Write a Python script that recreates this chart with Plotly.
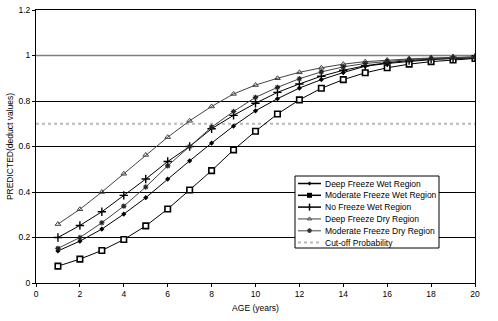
import plotly.graph_objects as go

ages = list(range(1, 21))
deep_freeze_wet = [0.141, 0.184, 0.237, 0.303, 0.375, 0.457, 0.537, 0.615, 0.69, 0.757,
                   0.81, 0.857, 0.894, 0.925, 0.953, 0.965, 0.975, 0.982, 0.987, 0.99]
moderate_freeze_wet = [0.074, 0.105, 0.143, 0.191, 0.251, 0.325, 0.409, 0.494, 0.585, 0.667,
                       0.743, 0.805, 0.856, 0.894, 0.924, 0.946, 0.962, 0.973, 0.98, 0.987]
no_freeze_wet = [0.20, 0.253, 0.313, 0.385, 0.457, 0.534, 0.60, 0.678, 0.737, 0.79,
                 0.838, 0.875, 0.909, 0.935, 0.955, 0.968, 0.978, 0.984, 0.988, 0.991]
deep_freeze_dry = [0.259, 0.324, 0.40, 0.48, 0.563, 0.641, 0.713, 0.776, 0.831, 0.870,
                   0.90, 0.926, 0.946, 0.962, 0.973, 0.98, 0.985, 0.989, 0.992, 0.994]
moderate_freeze_dry = [0.152, 0.20, 0.265, 0.338, 0.422, 0.515, 0.60, 0.685, 0.754, 0.816,
                       0.86, 0.898, 0.928, 0.95, 0.965, 0.975, 0.982, 0.987, 0.99, 0.993]
cutoff = 0.7
series_names = ["Deep Freeze Wet Region", "Moderate Freeze Wet Region", "No Freeze Wet Region",
                "Deep Freeze Dry Region", "Moderate Freeze Dry Region"]
cutoff_name = "Cut-off Probability"
x_ticks = list(range(0, 21, 2))
y_ticks = [0, 0.2, 0.4, 0.6, 0.8, 1.0, 1.2]
y_tick_labels = ["0", "0.2", "0.4", "0.6", "0.8", "1", "1.2"]

FONT = "Liberation Sans, Arial, sans-serif"
GRAY = "#808080"
CUT_COLOR = "#b8b8b8"

styles = [
    dict(line=dict(color="black", width=1),
         marker=dict(symbol="diamond", size=4, color="black")),
    dict(line=dict(color="black", width=1),
         marker=dict(symbol="square", size=5.5, color="white", line=dict(color="black", width=1.6))),
    dict(line=dict(color="black", width=1),
         marker=dict(symbol="cross-thin", size=6, color="black", line=dict(color="black", width=1.4))),
    dict(line=dict(color="#444444", width=1),
         marker=dict(symbol="triangle-up-open", size=5, color="#444444", line=dict(width=1))),
    dict(line=dict(color="#444444", width=1),
         marker=dict(symbol="asterisk-open", size=4.5, color="#222222", line=dict(width=1.1, color="#222222"))),
]
legend_styles = [
    dict(line=dict(color="black", width=1.5), marker=dict(symbol="diamond", size=3, color="black")),
    dict(line=dict(color="black", width=1.5), marker=dict(symbol="square", size=5, color="black")),
    dict(line=dict(color="black", width=1.5),
         marker=dict(symbol="line-ns", size=5, color="black", line=dict(color="black", width=1.5))),
    dict(line=dict(color=GRAY, width=1.5),
         marker=dict(symbol="triangle-up-open", size=4, color="#555555", line=dict(width=1))),
    dict(line=dict(color=GRAY, width=1.5),
         marker=dict(symbol="asterisk-open", size=4, color="#333333", line=dict(width=1.2, color="#333333"))),
]
all_series = [deep_freeze_wet, moderate_freeze_wet, no_freeze_wet, deep_freeze_dry, moderate_freeze_dry]

fig = go.Figure()

fig.add_trace(go.Scatter(x=[0, 20], y=[1, 1], mode="lines", showlegend=False, hoverinfo="skip",
                         line=dict(color=GRAY, width=1.5)))
fig.add_trace(go.Scatter(x=[0, 20], y=[cutoff, cutoff], name=cutoff_name, mode="lines",
                         showlegend=False, line=dict(color=CUT_COLOR, width=2, dash="dot")))
for name, vals, st in zip(series_names, all_series, styles):
    fig.add_trace(go.Scatter(x=ages, y=vals, name=name, mode="lines+markers",
                             showlegend=False, **st))

# ---- compact legend drawn on a hidden pixel-space overlay axis ----
LX0, LX1, LY0, LY1 = 295, 439, 176, 248
row0, row_step = 183.5, 11.8
samp0, samp1, text_x = 298, 321, 323
fig.add_trace(go.Scatter(x=[LX0, LX1, LX1, LX0, LX0], y=[LY0, LY0, LY1, LY1, LY0],
                         xaxis="x2", yaxis="y2", mode="lines", fill="toself",
                         fillcolor="white", line=dict(color="black", width=1),
                         showlegend=False, hoverinfo="skip"))
for i, (name, st) in enumerate(zip(series_names, legend_styles)):
    yc = row0 + i * row_step
    fig.add_trace(go.Scatter(x=[samp0, samp1], y=[yc, yc], xaxis="x2", yaxis="y2",
                             mode="lines", line=st["line"], showlegend=False, hoverinfo="skip"))
    fig.add_trace(go.Scatter(x=[(samp0 + samp1) / 2], y=[yc], xaxis="x2", yaxis="y2",
                             mode="markers", marker=st["marker"], showlegend=False, hoverinfo="skip"))
    fig.add_annotation(x=text_x, y=yc, xref="x2", yref="y2", text=name, showarrow=False,
                       xanchor="left", yanchor="middle", font=dict(size=8.5, family=FONT))
yc = row0 + len(series_names) * row_step
fig.add_trace(go.Scatter(x=[samp0, samp1], y=[yc, yc], xaxis="x2", yaxis="y2", mode="lines",
                         line=dict(color=CUT_COLOR, width=2, dash="dot"),
                         showlegend=False, hoverinfo="skip"))
fig.add_annotation(x=text_x, y=yc, xref="x2", yref="y2", text=cutoff_name, showarrow=False,
                   xanchor="left", yanchor="middle", font=dict(size=8.5, family=FONT))

fig.update_layout(
    width=498, height=321,
    margin=dict(l=36, r=23, t=10, b=38, autoexpand=False),
    paper_bgcolor="white", plot_bgcolor="white",
    font=dict(family=FONT, size=8.5, color="black"),
    showlegend=False,
    xaxis=dict(range=[0, 20], tickvals=x_ticks, showgrid=False,
               zeroline=False, showline=True, linecolor="black", linewidth=1, mirror=True,
               ticks="outside", ticklen=3, tickcolor="black",
               title=dict(text="AGE (years)", font=dict(size=8.5), standoff=6)),
    yaxis=dict(range=[0, 1.2], tickvals=y_ticks, ticktext=y_tick_labels,
               showgrid=True, gridcolor="black", gridwidth=1, zeroline=False,
               showline=True, linecolor="black", linewidth=1, mirror=True,
               ticks="outside", ticklen=3, tickcolor="black",
               title=dict(text="PREDICTED(deduct values)", font=dict(size=8.5), standoff=3)),
    xaxis2=dict(overlaying="x", range=[36, 475], visible=False, fixedrange=True),
    yaxis2=dict(overlaying="y", range=[283, 10], visible=False, fixedrange=True),
)

fig.write_html("out.html")
